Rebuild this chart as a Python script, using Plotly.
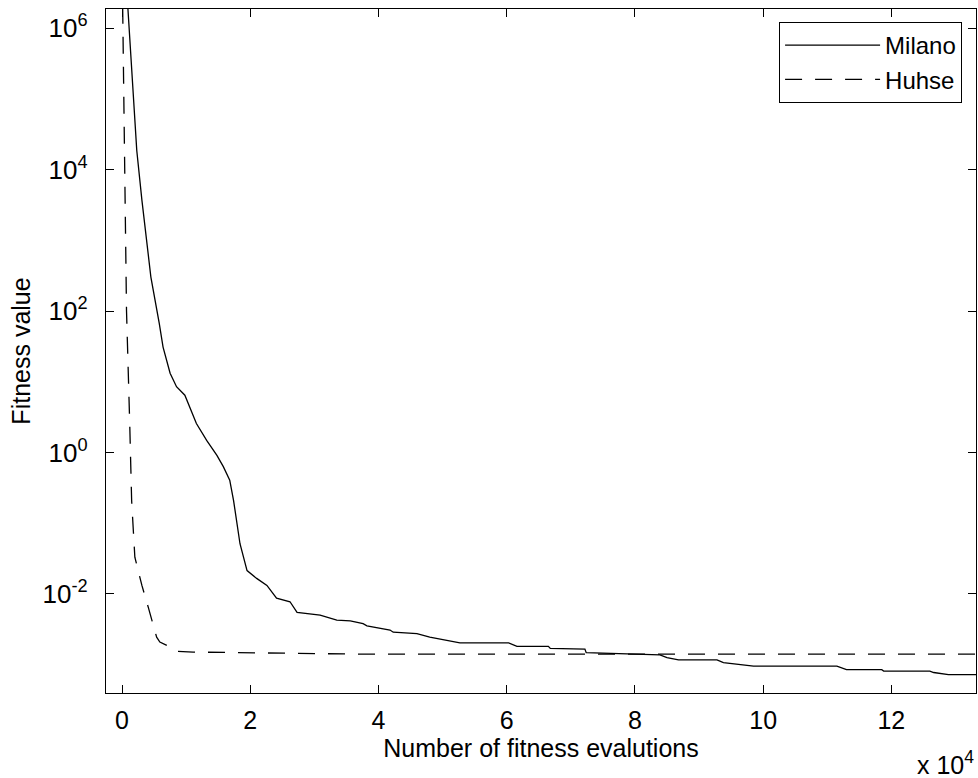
import plotly.graph_objects as go

# x in units of 10^4 fitness evaluations
milano_x = [0.09, 0.23, 0.31, 0.45, 0.58, 0.64, 0.75, 0.85, 0.98, 1.16, 1.32, 1.48, 1.58, 1.68,
            1.74, 1.79, 1.84, 1.95, 2.10, 2.26, 2.41, 2.62, 2.73, 3.09, 3.35, 3.56, 3.76, 3.82,
            4.18, 4.23, 4.60, 4.80, 5.12, 5.27, 6.03, 6.16, 6.65, 6.68, 7.22, 7.24, 8.39, 8.50,
            8.68, 9.28, 9.38, 9.64, 9.85, 11.15, 11.30, 11.85, 11.88, 12.60, 12.66, 12.89, 13.32]
milano_y = [2.0e6, 1.86e4, 3.7e3, 302, 67.6, 30.9, 13.2, 8.51, 6.46, 2.57, 1.48, 0.912, 0.631, 0.407,
            0.209, 0.0977, 0.0513, 0.0214, 0.0166, 0.0132, 0.0087, 0.00776, 0.0055, 0.00501, 0.00427,
            0.00417, 0.0038, 0.00355, 0.00309, 0.00288, 0.00275, 0.00245, 0.00219, 0.00204, 0.00204,
            0.00182, 0.00182, 0.0017, 0.00166, 0.00148, 0.00138, 0.00126, 0.00117, 0.00117, 0.00107,
            0.00100, 0.000955, 0.000955, 0.000851, 0.000851, 0.000813, 0.000813, 0.000776, 0.000724,
            0.000724]

huhse_x = [0.01, 0.04, 0.07, 0.12, 0.15, 0.20, 0.31, 0.41, 0.54, 0.59, 0.80, 0.85, 1.11, 3.71, 13.32]
huhse_y = [2.0e6, 1.0e4, 100, 2.57, 0.209, 0.0331, 0.0132, 0.00646, 0.00245, 0.00209, 0.0017,
           0.00155, 0.00151, 0.00141, 0.00141]

y_tickvals = [1e-2, 1, 1e2, 1e4, 1e6]
y_ticktext = ["10<sup>-2</sup>", "10<sup>0</sup>", "10<sup>2</sup>", "10<sup>4</sup>", "10<sup>6</sup>"]
x_tickvals = [0, 2, 4, 6, 8, 10, 12]
x_ticktext = ["0", "2", "4", "6", "8", "10", "12"]

FONT = "Liberation Sans, Arial, sans-serif"

fig = go.Figure()
fig.add_trace(go.Scatter(x=milano_x, y=milano_y, mode="lines", name="Milano",
                         line=dict(color="black", width=1.3)))
fig.add_trace(go.Scatter(x=huhse_x, y=huhse_y, mode="lines", name="Huhse",
                         line=dict(color="black", width=1.3, dash="17px,13px")))

axis_common = dict(showline=True, linecolor="black", linewidth=1.3, mirror="ticks",
                   ticks="inside", ticklen=8, tickwidth=1.3, tickcolor="black",
                   showgrid=False, zeroline=False, automargin=False)

fig.update_xaxes(range=[-0.25, 13.32], tickvals=x_tickvals, ticktext=x_ticktext,
                 ticklabelstandoff=5,
                 tickfont=dict(family=FONT, size=25, color="black"),
                 title=dict(text="Number of fitness evalutions", standoff=3,
                            font=dict(family=FONT, size=25, color="black")),
                 **axis_common)
fig.update_yaxes(type="log", range=[-3.40, 6.27], tickvals=y_tickvals, ticktext=y_ticktext,
                 ticklabelstandoff=12,
                 tickfont=dict(family=FONT, size=26, color="black"),
                 title=dict(text="Fitness value", standoff=4,
                            font=dict(family=FONT, size=25, color="black")),
                 **axis_common)

fig.add_annotation(text="x 10<sup>4</sup>", xref="paper", yref="paper", x=1.0, y=-0.102,
                   xanchor="right", yanchor="middle", showarrow=False,
                   font=dict(family=FONT, size=25, color="black"))

fig.update_layout(
    width=978, height=778,
    margin=dict(l=106, r=2, t=9, b=85, autoexpand=False),
    paper_bgcolor="white", plot_bgcolor="white",
    font=dict(family=FONT, size=25, color="black"),
    showlegend=True,
    legend=dict(x=0.984, y=0.981, xanchor="right", yanchor="top",
                bgcolor="white", bordercolor="black", borderwidth=1,
                itemwidth=95, font=dict(family=FONT, size=24, color="black"),
                tracegroupgap=0),
)

fig.write_html("out.html", config={"displayModeBar": False},
               post_script="document.body.style.margin='0';document.body.style.overflow='hidden';")
